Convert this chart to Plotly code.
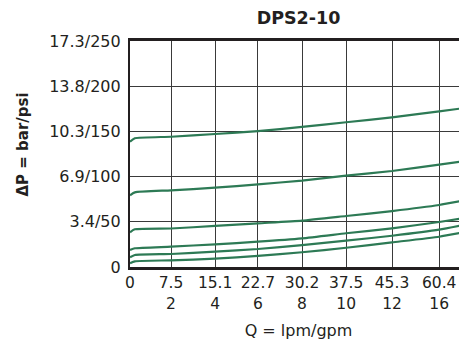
import plotly.graph_objects as go

# x gridline positions (uneven spacing in the original chart, in "grid units")
x_ticks = [0, 0.93, 1.93, 2.90, 3.90, 4.90, 5.94, 7.01]
x_text = ["0", "7.5<br>2", "15.1<br>4", "22.7<br>6", "30.2<br>8",
          "37.5<br>10", "45.3<br>12", "60.4<br>16"]

y_ticks = [0, 50, 100, 150, 200, 250]
y_text = ["0", "3.4/50", "6.9/100", "10.3/150", "13.8/200", "17.3/250"]

# sample positions along the flow axis (grid units)
q = [0, 0.11, 0.93, 1.93, 2.90, 3.90, 4.90, 5.94, 7.01, 7.64]

# pressure drop curves (psi)
dp1 = [138.6, 142.4, 144.1, 147.1, 150.4, 154.9, 160.1, 165.6, 172.2, 176.2]
dp2 = [79.3, 82.6, 84.8, 87.7, 91.5, 95.5, 101.0, 106.2, 113.2, 117.6]
dp3 = [38.4, 41.7, 42.6, 45.4, 48.3, 51.2, 56.4, 61.9, 68.6, 74.1]
dp4 = [18.8, 20.7, 22.5, 25.1, 28.0, 31.7, 37.3, 42.8, 49.8, 54.5]
dp5 = [10.7, 13.3, 14.4, 16.9, 19.9, 24.3, 29.1, 34.6, 41.3, 47.2]
dp6 = [4.1, 6.3, 7.4, 9.2, 12.2, 16.3, 21.3, 27.3, 33.5, 39.0]

curves = [dp1, dp2, dp3, dp4, dp5, dp6]

ink = "#231f20"
green = "#2d7a55"
font = "DejaVu Sans"

fig = go.Figure()

for dp in curves:
    fig.add_trace(go.Scatter(
        x=q, y=dp,
        mode="lines",
        line=dict(color=green, width=2.2, shape="spline", smoothing=0.5),
        hoverinfo="none"
    ))

# the page body has an 8px margin, so the figure is 8px smaller than the window
fig.update_layout(
    width=459, height=341,
    margin=dict(l=122, r=0, t=33, b=82),
    plot_bgcolor="white",
    paper_bgcolor="white",
    showlegend=False,
    font=dict(family=font, color=ink),
    title=dict(
        text="<b>DPS2-10</b>",
        x=0.5, xref="paper", xanchor="center",
        y=1 - 4 / 341, yanchor="top", pad=dict(t=0),
        font=dict(size=17.5, family=font, color=ink)
    ),
    xaxis=dict(
        range=[0, 7.64],
        tickvals=x_ticks, ticktext=x_text,
        tickfont=dict(size=15.5, family=font, color=ink),
        showgrid=True, gridcolor="#3a3a3a", gridwidth=1.3,
        zeroline=False,
        showline=True, linecolor=ink, linewidth=2.5, mirror=True,
        ticks="", ticklabelstandoff=0,
        title=dict(text="Q = lpm/gpm", font=dict(size=16, family=font, color=ink),
                   standoff=14)
    ),
    yaxis=dict(
        range=[0, 250],
        tickvals=y_ticks, ticktext=y_text,
        tickfont=dict(size=16, family=font, color=ink),
        showgrid=True, gridcolor="#3a3a3a", gridwidth=1.3,
        zeroline=False,
        showline=True, linecolor=ink, linewidth=2.2,
        ticks="", ticklabelstandoff=4
    ),
    annotations=[dict(
        text="<b>ΔP = bar/psi</b>",
        xref="paper", yref="paper",
        x=(14 - 122) / 337, y=(267 - 144.5) / 226,
        xanchor="center", yanchor="middle",
        textangle=-90, showarrow=False,
        font=dict(size=15, family=font, color=ink)
    )]
)

fig.write_html("out.html")
